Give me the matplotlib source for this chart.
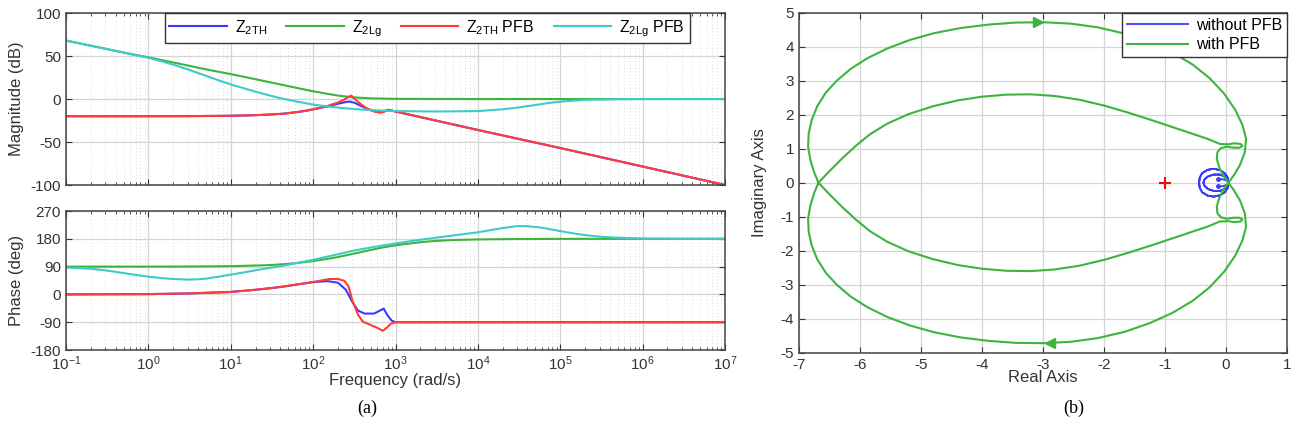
import numpy as np
import matplotlib
matplotlib.use("Agg")
import matplotlib.pyplot as plt
from matplotlib.ticker import LogLocator, NullFormatter, FixedLocator, LogFormatterSciNotation

plt.rcParams['font.family'] = ['Liberation Sans', 'DejaVu Sans']
plt.rcParams['mathtext.default'] = 'regular'
plt.rcParams['axes.unicode_minus'] = False

# ---- Bode data ----
# Z2Lg magnitude / phase
w_lg = [0.1, 0.2, 0.3, 0.5, 1, 2, 3, 5, 10, 20, 30, 50, 70, 100, 150, 200, 300, 500, 1000, 3000, 1e4, 1e7]
mag_lg = [68, 62, 58.5, 54, 48.5, 42.5, 39, 34.5, 29, 23, 19.5, 15, 12, 9, 6, 4, 2, 0.8, 0.2, 0.05, 0, 0]
w_lg_ph = [0.1, 1, 3, 10, 20, 30, 50, 70, 100, 150, 200, 300, 500, 700, 1000, 2000, 3000, 5000, 1e4, 3e4, 1e5, 1e6, 1e7]
ph_lg = [90, 90, 90.3, 91.5, 93.5, 95, 99, 103, 108, 115, 121, 131, 144, 152, 159, 169, 173, 176, 178, 179.3, 179.8, 180, 180]

# Z2Lg PFB
w_lgp = [0.1, 0.2, 0.3, 0.5, 1, 1.5, 2, 3, 5, 7, 10, 15, 20, 30, 40, 60, 100, 200, 300, 500, 1000, 3000,
         6000, 1e4, 2e4, 3e4, 5e4, 7e4, 1e5, 2e5, 5e5, 1e6, 1e7]
mag_lgp = [68, 62, 58.5, 54, 48, 43.5, 40, 34.5, 27, 22, 17, 12, 8.5, 4, 1, -2.5, -6.5, -10, -11.5, -13, -14, -14.5,
           -14.3, -14, -12, -10, -7, -4.8, -3, -1, -0.3, 0, 0]
w_lgp_ph = [0.1, 0.2, 0.3, 0.45, 0.6, 0.8, 1, 1.5, 2, 3, 4, 5, 7, 10, 15, 20, 30, 50, 100, 200, 300, 500, 1000,
            2000, 3000, 5000, 1e4, 2e4, 3e4, 4e4, 6e4, 1e5, 1.5e5, 2e5, 3e5, 5e5, 1e6, 3e6, 1e7]
ph_lgp = [87, 83, 78, 71, 66, 61, 57.5, 52.5, 50, 48, 49, 51, 57, 64, 72, 78, 86, 96, 112, 130, 141, 152, 165,
          177, 183, 191, 201, 215, 221, 221, 216, 205, 197, 192, 187, 183.5, 181, 180, 180]

# Z2TH
w_th = [0.1, 1, 3, 10, 20, 30, 45, 60, 80, 100, 150, 200, 250, 280, 320, 400, 500, 600, 700, 800, 900, 1000,
        2000, 1e4, 1e5, 1e6, 1e7]
mag_th = [-20, -20, -19.9, -19.5, -18.8, -18, -17, -15.5, -13.8, -12, -8.5, -5.5, -3.5, -3, -4.5, -9, -13, -15,
          -15, -13, -13.5, -14.5, -21, -36, -57, -78.5, -100]
w_th_ph = [0.1, 1, 3, 10, 20, 30, 45, 60, 80, 100, 150, 200, 250, 300, 350, 420, 550, 650, 720, 800, 900,
           1000, 1500, 1e7]
ph_th = [0, 1, 3, 8, 15, 20, 26, 31, 36, 40, 43, 38, 15, -25, -52, -62, -62, -52, -46, -68, -85, -90, -90, -90]

# Z2TH PFB
w_thp = [0.1, 1, 3, 10, 20, 30, 45, 60, 80, 100, 150, 200, 240, 270, 290, 320, 380, 450, 550, 650, 720, 800,
         900, 1000, 2000, 1e4, 1e5, 1e6, 1e7]
mag_thp = [-20, -20, -19.9, -19.5, -18.8, -18, -17, -15.5, -13.8, -12, -8, -4, -0.5, 2.5, 4, 0, -6, -11, -14.5,
           -16, -15, -12.5, -13.5, -14.5, -21, -36, -57, -78.5, -100]
w_thp_ph = [0.1, 1, 3, 10, 20, 30, 45, 60, 80, 100, 130, 160, 200, 240, 270, 300, 350, 400, 480, 600, 700, 780,
            880, 1000, 1500, 1e7]
ph_thp = [0, 1, 3, 8, 15, 20, 26, 31, 36, 40, 46, 50, 50, 44, 25, -20, -65, -88, -97, -108, -118, -108, -95,
          -90, -90, -90]

freq_ticks = [1e-1, 1e0, 1e1, 1e2, 1e3, 1e4, 1e5, 1e6, 1e7]

# ---- Nyquist data (positive-frequency branch; negative branch is the conjugate) ----
nyq_pfb_re = [-6.68, -6.75, -6.81, -6.85, -6.84, -6.79, -6.7, -6.56, -6.38, -6.15, -5.88, -5.55, -5.18, -4.78,
              -4.35, -3.9, -3.45, -3.0, -2.55, -2.1, -1.65, -1.25, -0.88, -0.55, -0.27, -0.03, 0.15, 0.27,
              0.33, 0.31, 0.23, 0.13, 0.04,
              -0.04, -0.11, -0.15, -0.14, -0.08, 0.02, 0.12, 0.22, 0.27, 0.24, 0.14, 0.03, -0.1,
              -0.3, -0.55, -0.85, -1.2, -1.6, -2.0, -2.4, -2.8, -3.2, -3.6, -4.0, -4.4, -4.8, -5.2, -5.55,
              -5.84, -6.07, -6.3, -6.5, -6.68]
nyq_pfb_im = [0.0, 0.3, 0.65, 1.05, 1.45, 1.85, 2.25, 2.65, 3.0, 3.35, 3.66, 3.95, 4.2, 4.4,
              4.55, 4.65, 4.71, 4.72, 4.68, 4.57, 4.38, 4.13, 3.83, 3.48, 3.08, 2.62, 2.15, 1.7,
              1.3, 0.9, 0.52, 0.22, 0.0,
              -0.2, -0.45, -0.7, -0.9, -1.02, -1.06, -1.03, -1.03, -1.08, -1.14, -1.16, -1.13, -1.14,
              -1.29, -1.44, -1.62, -1.83, -2.06, -2.27, -2.44, -2.55, -2.6, -2.59, -2.53, -2.42, -2.25, -2.02, -1.74,
              -1.42, -1.08, -0.7, -0.34, 0.0]

nyq_nopfb_re = [-0.13, -0.05, 0.02, 0.04, 0.03, -0.02, -0.1, -0.2, -0.29, -0.35, -0.37, -0.35, -0.29, -0.2,
                -0.1, -0.02, 0.03, 0.04, 0.03, -0.02, -0.1, -0.2, -0.3, -0.39, -0.43, -0.44, -0.43, -0.39,
                -0.3, -0.2, -0.1, -0.02, 0.03, 0.04]
nyq_nopfb_im = [-0.11, -0.1, -0.06, 0.0, 0.1, 0.18, 0.24, 0.24, 0.19, 0.1, 0.0, -0.1, -0.19, -0.24,
                -0.24, -0.18, -0.1, 0.0, 0.15, 0.28, 0.37, 0.41, 0.38, 0.28, 0.15, 0.0, -0.15, -0.28,
                -0.38, -0.41, -0.37, -0.28, -0.15, 0.0]

arrow_pts = [(-3.08, 4.72, '>'), (-2.88, -4.7, '<')]

c_blue = '#3b3bff'
c_green = '#3db43d'
c_red = '#ff3b3b'
c_cyan = '#3fcaca'
txt = '#333333'
grid_c = '#d4d4d4'

fig = plt.figure(figsize=(13.01, 4.34), dpi=100)
ax_m = fig.add_axes([0.0507, 0.5737, 0.5066, 0.3963])
ax_p = fig.add_axes([0.0507, 0.1935, 0.5066, 0.3203])
ax_n = fig.add_axes([0.6141, 0.1873, 0.3751, 0.7834])

lw = 1.5
ax_m.semilogx(w_th, mag_th, color=c_blue, lw=lw, label=r'Z$_{2TH}$')
ax_m.semilogx(w_lg, mag_lg, color=c_green, lw=lw, label=r'Z$_{2Lg}$')
ax_m.semilogx(w_thp, mag_thp, color=c_red, lw=lw, label=r'Z$_{2TH}$ PFB')
ax_m.semilogx(w_lgp, mag_lgp, color=c_cyan, lw=lw, label=r'Z$_{2Lg}$ PFB')

ax_p.semilogx(w_th_ph, ph_th, color=c_blue, lw=lw)
ax_p.semilogx(w_lg_ph, ph_lg, color=c_green, lw=lw)
ax_p.semilogx(w_thp_ph, ph_thp, color=c_red, lw=lw)
ax_p.semilogx(w_lgp_ph, ph_lgp, color=c_cyan, lw=lw)

ax_m.set_ylim(-100, 100)
ax_m.set_yticks([-100, -50, 0, 50, 100])
ax_p.set_ylim(-180, 270)
ax_p.set_yticks([-180, -90, 0, 90, 180, 270])

for ax in (ax_m, ax_p):
    ax.set_xlim(0.1, 1e7)
    ax.xaxis.set_major_locator(FixedLocator(freq_ticks))
    ax.xaxis.set_major_formatter(LogFormatterSciNotation())
    ax.xaxis.set_minor_locator(LogLocator(base=10, subs=np.arange(2, 10), numticks=200))
    ax.xaxis.set_minor_formatter(NullFormatter())
    ax.grid(True, which='major', color=grid_c, lw=0.9, ls='-')
    ax.grid(True, which='minor', axis='x', color='#cfcfcf', lw=0.6, ls=(0, (1, 3)))
    ax.tick_params(which='both', direction='in', top=True, right=True, labelsize=11, colors=txt)
    ax.tick_params(which='major', length=4)
    ax.tick_params(which='minor', length=2)
    for s in ax.spines.values():
        s.set_color('#444444')
        s.set_linewidth(1.1)
    ax.set_axisbelow(True)

ax_m.tick_params(labelbottom=False)
ax_m.set_ylabel('Magnitude (dB)', fontsize=12, color=txt)
ax_p.set_ylabel('Phase (deg)', fontsize=12, color=txt)
ax_m.yaxis.set_label_coords(-0.064, 0.5)
ax_p.yaxis.set_label_coords(-0.064, 0.5)
ax_p.set_xlabel('Frequency (rad/s)', fontsize=12, color=txt, labelpad=0)

leg = ax_m.legend(loc='upper center', bbox_to_anchor=(0.548, 1.0), ncol=4, borderaxespad=0,
                  fancybox=False, edgecolor='#333333', framealpha=1, fontsize=11.5,
                  handlelength=3.6, columnspacing=1.2, handletextpad=0.5, borderpad=0.3)
leg.get_frame().set_linewidth(1.0)

# Nyquist
re = np.array(nyq_nopfb_re)
im = np.array(nyq_nopfb_im)
ax_n.plot(np.concatenate([re, re[::-1]]), np.concatenate([im, -im[::-1]]), color=c_blue, lw=1.3,
          label='without PFB')
ax_n.plot([re[0], re[0]], [im[0], -im[0]], ls='none', marker='o', ms=2.5, color=c_blue)
re = np.array(nyq_pfb_re)
im = np.array(nyq_pfb_im)
ax_n.plot(np.concatenate([re, re[::-1]]), np.concatenate([im, -im[::-1]]), color=c_green, lw=1.5,
          label='with PFB')
for x, y, m in arrow_pts:
    ax_n.plot(x, y, marker=m, color=c_green, ms=7, ls='none')
ax_n.plot(-1, 0, marker='+', color='red', ms=9, mew=1.5, ls='none')

ax_n.set_xlim(-7, 1)
ax_n.set_ylim(-5, 5)
ax_n.xaxis.set_major_locator(FixedLocator(list(range(-7, 2))))
ax_n.yaxis.set_major_locator(FixedLocator(list(range(-5, 6))))
ax_n.grid(True, color=grid_c, lw=0.9)
ax_n.set_axisbelow(True)
ax_n.tick_params(which='both', direction='in', top=True, right=True, labelsize=11, colors=txt, length=4)
for s in ax_n.spines.values():
    s.set_color('#444444')
    s.set_linewidth(1.1)
ax_n.set_xlabel('Real Axis', fontsize=12, color=txt, labelpad=-1)
ax_n.set_ylabel('Imaginary Axis', fontsize=12, color=txt, labelpad=10)
leg2 = ax_n.legend(loc='upper right', borderaxespad=0, fancybox=False, edgecolor='#333333',
                   framealpha=1, fontsize=11.5, handlelength=3.8, handletextpad=0.5, borderpad=0.3,
                   labelspacing=0.3)
leg2.get_frame().set_linewidth(1.0)

fig.text(0.282, 0.06, '(a)', fontsize=13, family=['Liberation Serif'], ha='center', va='center')
fig.text(0.8255, 0.06, '(b)', fontsize=13, family=['Liberation Serif'], ha='center', va='center')

fig.savefig('out.png', dpi=100)
